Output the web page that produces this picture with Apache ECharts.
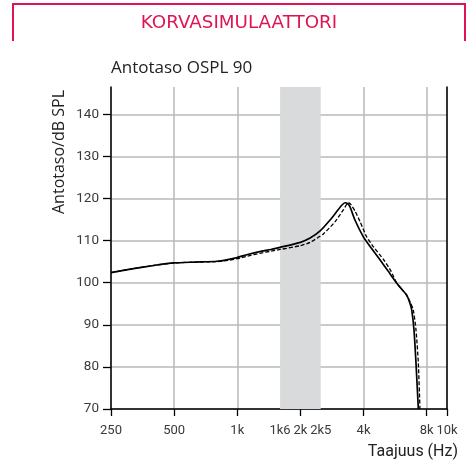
<!DOCTYPE html>
<html>
<head>
<meta charset="utf-8">
<script src="https://cdn.jsdelivr.net/npm/echarts@6/dist/echarts.min.js"></script>
<style>
  html, body { margin: 0; padding: 0; background: #fff; }
  #chart { width: 475px; height: 465px; }
</style>
</head>
<body>
<div id="chart"></div>
<script>
// Frequency response, OSPL 90, on an ear simulator
const solidFreq = [250, 315, 400, 500, 630, 800, 900, 1000, 1120, 1280, 1450, 1600, 2000, 2225, 2483, 2770, 2982, 3149, 3265, 3360, 3449, 3640, 3992, 4300, 4800, 5250, 5760, 6100, 6430, 6650, 6790, 6960, 7115, 7300];
const solidDb   = [102.4, 103.3, 104.1, 104.7, 104.9, 105.1, 105.5, 106.0, 106.7, 107.4, 107.9, 108.4, 109.6, 110.6, 112.3, 114.9, 116.9, 118.4, 119.0, 118.8, 118.0, 114.9, 110.9, 108.6, 105.4, 102.7, 99.9, 98.4, 97.0, 95.2, 93.5, 88.8, 80.9, 70.0];

const dashFreq = [250, 315, 400, 500, 630, 800, 900, 1000, 1120, 1280, 1450, 1600, 2000, 2225, 2574, 2926, 3204, 3385, 3480, 3644, 3850, 4140, 4450, 5000, 5400, 5760, 6100, 6430, 6700, 6910, 7115, 7300, 7430];
const dashDb   = [102.4, 103.3, 104.1, 104.7, 104.9, 105.0, 105.3, 105.7, 106.3, 107.0, 107.5, 107.9, 108.8, 109.6, 111.6, 114.5, 117.3, 119.0, 118.6, 117.0, 114.5, 110.9, 108.6, 105.4, 102.8, 99.9, 98.4, 97.0, 95.2, 93.5, 88.8, 80.9, 70.0];

// Axis ticks and labels
const gridFreqs  = [250, 500, 1000, 2000, 4000, 8000, 10000];
const labelFreqs = [250, 500, 1000, 1600, 2000, 2500, 4000, 8000, 10000];
const labelTexts = ['250', '500', '1k', '1k6', '2k', '2k5', '4k', '8k', '10k'];
const dbTicks    = [70, 80, 90, 100, 110, 120, 130, 140];
const bandFreqs  = [1600, 2500];

const fMin = 250, fMax = 10000;
const dbMin = 70, dbMax = 146.5;

// octaves above the lowest frequency (log-frequency axis)
const oct = f => Math.log2(f / fMin);

const labelFor = v => {
  let best = 0, d = Infinity;
  labelFreqs.forEach((f, i) => {
    const dd = Math.abs(oct(f) - v);
    if (dd < d) { d = dd; best = i; }
  });
  return labelTexts[best];
};

const FONT = 'Roboto';
const TXT = '#3a3a3a';
const RED = '#de1552';

const chart = echarts.init(document.getElementById('chart'), null, { renderer: 'canvas' });

chart.setOption({
  animation: false,
  backgroundColor: '#fff',
  grid: { left: 111, right: 28, top: 87, bottom: 56, containLabel: false },
  xAxis: {
    type: 'value',
    min: 0,
    max: oct(fMax),
    interval: 1,
    axisLine: { show: true, onZero: false, lineStyle: { color: '#000', width: 1.5 } },
    axisTick: {
      show: true, inside: false, length: 7,
      customValues: gridFreqs.map(oct),
      lineStyle: { color: '#000', width: 1.3 }
    },
    axisLabel: {
      customValues: labelFreqs.map(oct),
      formatter: v => labelFor(v),
      color: TXT, fontFamily: FONT, fontSize: 13, margin: 15
    },
    splitLine: { show: true, lineStyle: { color: '#b8b8b8', width: 1.5 } }
  },
  yAxis: [{
    type: 'value',
    min: dbMin,
    max: dbMax,
    interval: 10,
    axisLine: { show: true, onZero: false, lineStyle: { color: '#000', width: 1.5 } },
    axisTick: {
      show: true, inside: false, length: 8,
      customValues: dbTicks,
      lineStyle: { color: '#000', width: 1.3 }
    },
    axisLabel: {
      customValues: dbTicks,
      color: TXT, fontFamily: FONT, fontSize: 13.5, margin: 12
    },
    splitLine: { show: true, lineStyle: { color: '#b8b8b8', width: 1.5 } }
  }, {
    type: 'value',
    position: 'right',
    min: dbMin,
    max: dbMax,
    axisLine: { show: true, onZero: false, lineStyle: { color: '#000', width: 1.5 } },
    axisTick: { show: false },
    axisLabel: { show: false },
    splitLine: { show: false }
  }],
  series: [{
    type: 'line',
    name: 'band',
    data: [],
    markArea: {
      silent: true,
      itemStyle: { color: '#d9dadb' },
      data: [[{ xAxis: oct(bandFreqs[0]) }, { xAxis: oct(bandFreqs[1]) }]]
    },
    z: 1
  }, {
    type: 'line',
    name: 'solid',
    data: solidFreq.map((f, i) => [oct(f), solidDb[i]]),
    showSymbol: false,
    smooth: 0.2,
    lineStyle: { color: '#000', width: 1.7 },
    z: 3
  }, {
    type: 'line',
    name: 'dashed',
    data: dashFreq.map((f, i) => [oct(f), dashDb[i]]),
    showSymbol: false,
    smooth: 0.2,
    lineStyle: { color: '#000', width: 1.3, type: [4, 2] },
    z: 3
  }],
  graphic: [
    {
      type: 'polyline',
      shape: { points: [[13, 41], [13, 4], [465, 4], [465, 41]] },
      style: { stroke: RED, lineWidth: 2, fill: null }
    },
    {
      type: 'text',
      x: 239, y: 23,
      style: { text: 'KORVASIMULAATTORI', fill: RED, font: '18.3px "DejaVu Sans"', align: 'center', verticalAlign: 'middle' }
    },
    {
      type: 'text',
      x: 111, y: 68,
      style: { text: 'Antotaso OSPL 90', fill: '#222', font: '17px "Open Sans"', verticalAlign: 'middle' }
    },
    {
      type: 'text',
      x: 59, y: 152,
      rotation: Math.PI / 2,
      style: { text: 'Antotaso/dB SPL', fill: '#222', font: '16px "Open Sans"', align: 'center', verticalAlign: 'middle' }
    },
    {
      type: 'text',
      x: 458, y: 452,
      style: { text: 'Taajuus (Hz)', fill: '#222', font: '16px ' + FONT, align: 'right', verticalAlign: 'middle' }
    }
  ]
});
</script>
</body>
</html>
